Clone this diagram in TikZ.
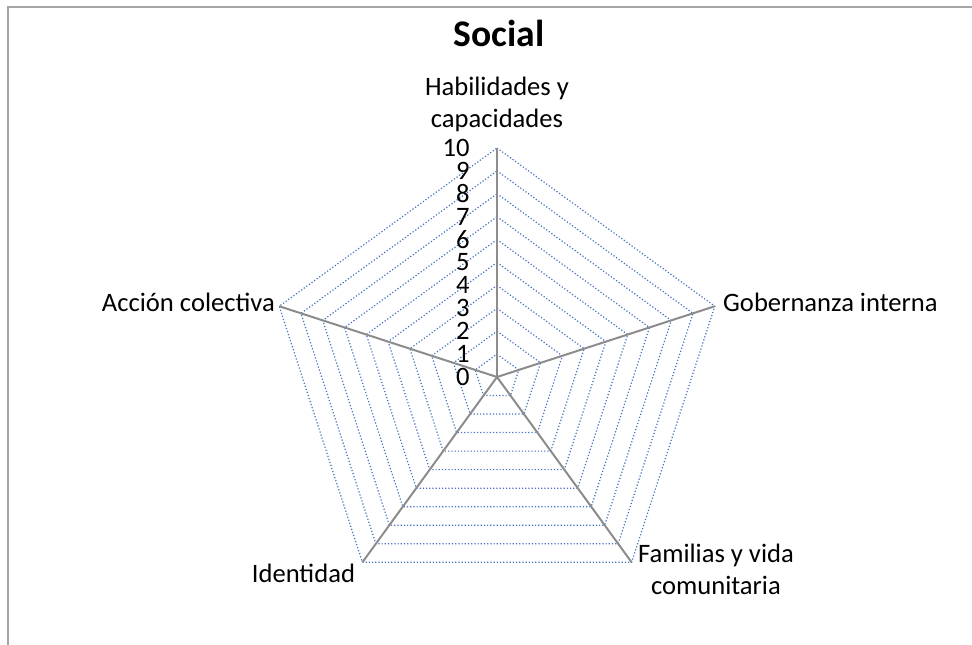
\documentclass[tikz,border=0pt]{standalone}
\usepackage{fontspec}
\setmainfont{Carlito}
\usepackage{xcolor}
\usepackage{tikz}
\usetikzlibrary{positioning}

\definecolor{gridblue}{RGB}{68,114,196}
\definecolor{axisgray}{RGB}{140,140,140}
\definecolor{framegray}{RGB}{165,165,165}

\begin{document}
\begin{tikzpicture}[
  x=0.5pt, y=0.5pt,
  every node/.style={font=\fontsize{13.3}{16.1}\selectfont},
  gridline/.style={gridblue, densely dotted, line width=0.6pt},
  axis/.style={axisgray, line width=1pt},
  axislabel/.style={align=center, inner sep=0pt},
  ticklabel/.style={anchor=east, inner sep=0pt}
]
\useasboundingbox (0,0) rectangle (972,644);

% Frame
\begin{scope}
  \clip (0,0) rectangle (972,644);
  \draw[framegray, line width=1pt] (8,-20) -- (8,637) -- (990,637);
\end{scope}

% Title
\node[font=\fontsize{18.8}{22}\selectfont\bfseries, anchor=base] (title) at (499,597) {Social};

\coordinate (center) at (497,267);

\begin{scope}[shift={(center)}]
  % Grid
  \foreach \r in {1,...,10} {
    \draw[gridline] (90:\r*22.9) -- (18:\r*22.9) -- (-54:\r*22.9)
      -- (-126:\r*22.9) -- (-198:\r*22.9) -- cycle;
  }

  % Axes
  \coordinate (hub) at (0,0);
  \coordinate (v1) at (90:229);
  \coordinate (v2) at (18:229);
  \coordinate (v3) at (-54:229);
  \coordinate (v4) at (-126:229);
  \coordinate (v5) at (162:229);
  \foreach \i in {1,...,5} {
    \draw[axis] (hub) -- (v\i);
  }

  % Scale
  \foreach \k in {0,...,10} {
    \node[ticklabel] (t\k) at (-27,\k*22.9) {\k};
  }
\end{scope}

% Labels
\node[axislabel, above=8pt of v1] (habilidades) {Habilidades y\\capacidades};
\node[axislabel, right=4pt of v2, yshift=1.7pt] (gobernanza) {Gobernanza interna};
\node[axislabel, anchor=north west] (familias) at ([shift={(6,19)}]v3) {Familias y vida\\comunitaria};
\node[axislabel, anchor=north east] (identidad) at ([shift={(-7,-1)}]v4) {Identidad};
\node[axislabel, left=2pt of v5, yshift=1.7pt] (accion) {Acción colectiva};

\end{tikzpicture}
\end{document}
